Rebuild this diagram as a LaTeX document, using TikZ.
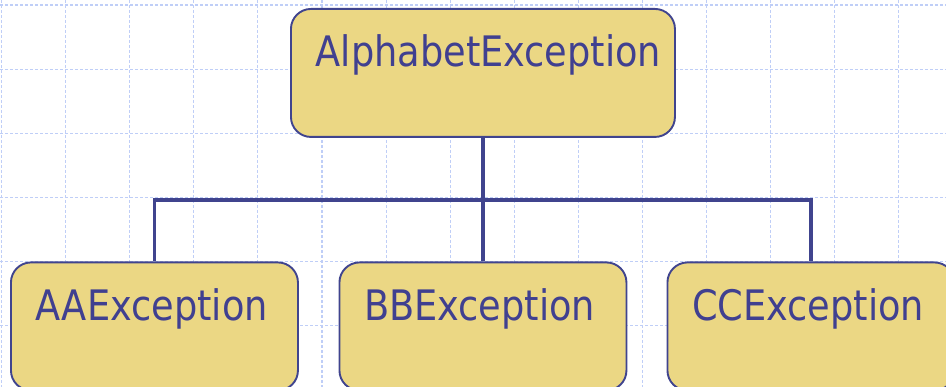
\documentclass[tikz,border=0pt]{standalone}
\usepackage{fontspec}
\setmainfont{DejaVu Sans Condensed}
\usetikzlibrary{calc}
\definecolor{boxfill}{HTML}{EBD784}
\definecolor{linecol}{HTML}{40448E}
\definecolor{textcol}{HTML}{404090}
\definecolor{gridcol}{HTML}{BFCEF7}
\begin{document}
\begin{tikzpicture}[x=1pt,y=-1pt,
  box/.style={draw=linecol,line width=1.9pt,fill=boxfill,rounded corners=20pt,
    minimum width=287pt,minimum height=128pt,anchor=north west,inner sep=0pt},
  topbox/.style={box,minimum width=384pt},
  label/.style={anchor=base west,inner sep=0pt,text=textcol,font=\fontsize{42}{46}\selectfont},
  conn/.style={draw=linecol,line width=3.8pt},
  gridline/.style={draw=gridcol,line width=1.1pt,dash pattern=on 3pt off 2pt}]
\useasboundingbox (0,0) rectangle (946,387);
\begin{scope}
\clip (0,0) rectangle (946,387);
% grid
\foreach \i in {0,...,14} {\draw[gridline] (1.7+64.06*\i,0) -- (1.7+64.06*\i,387);}
\foreach \j in {0,...,6} {\draw[gridline] (0,5+64.06*\j) -- (946,5+64.06*\j);}
% boxes
\node[topbox] (top) at (290,8) {};
\node[box] (aa) at (10,261.5) {};
\node[box] (bb) at (338.5,261.5) {};
\node[box] (cc) at (666.5,261.5) {};
% connectors
\path (top.south) ++(0,62.5) coordinate (bus);
\draw[conn] (top.south) -- (bb.north);
\draw[conn] (aa.north) |- (bus) -| (cc.north);
% labels
\node[label] (ttop) at ($(top.north west)+(25.5,59)$) {\scalebox{0.972}[1]{AlphabetException}};
\node[label] (taa) at ($(aa.north west)+(25.5,59)$) {\scalebox{0.972}[1]{AAException}};
\node[label] (tbb) at ($(bb.north west)+(25.5,59)$) {\scalebox{0.972}[1]{BBException}};
\node[label] (tcc) at ($(cc.north west)+(25.5,59)$) {\scalebox{0.972}[1]{CCException}};
\end{scope}
\end{tikzpicture}
\end{document}
